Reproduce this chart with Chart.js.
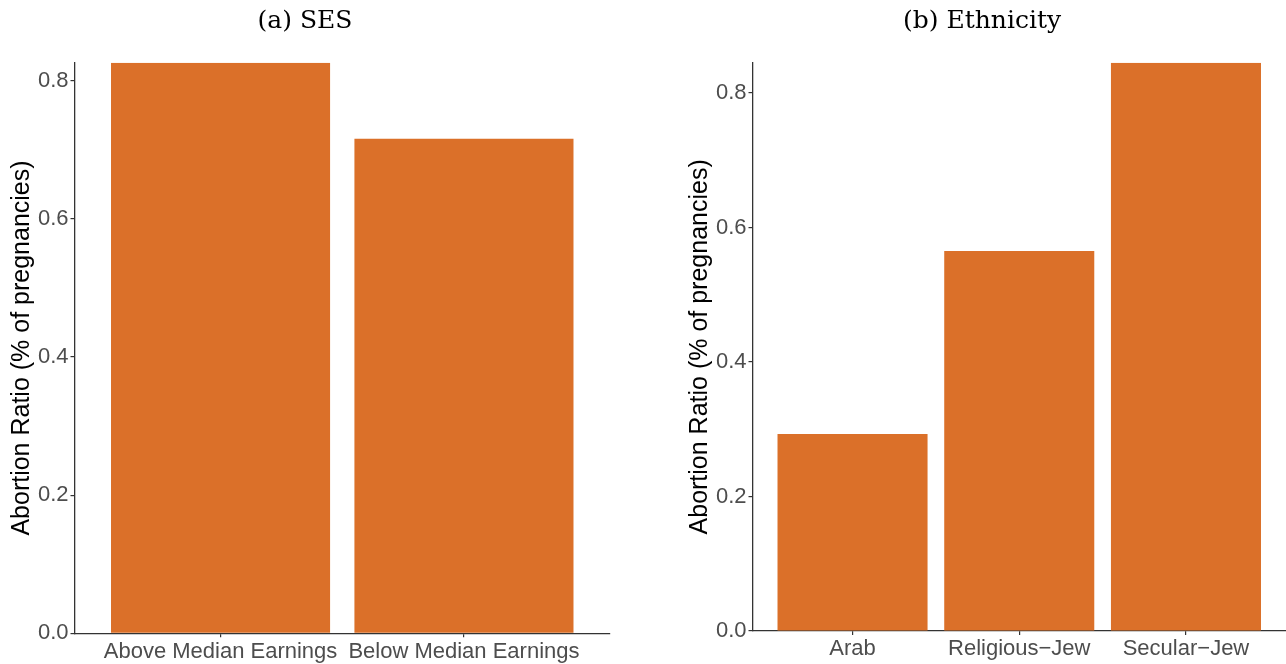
<!DOCTYPE html>
<html>
<head>
<meta charset="utf-8">
<script src="https://cdn.jsdelivr.net/npm/chart.js@4.4.1/dist/chart.umd.min.js"></script>
<style>
    html, body { margin: 0; padding: 0; background: #fff; overflow: hidden; }
    .panel { position: absolute; top: 0; height: 664px; }
    #left { left: 0; width: 622px; }
    #right { left: 678px; width: 618px; }
</style>
</head>
<body>
<div class="panel" id="left"><canvas id="sesChart"></canvas></div>
<div class="panel" id="right"><canvas id="ethChart"></canvas></div>
<script>
const sesLabels = ["Above Median Earnings", "Below Median Earnings"];
const sesValues = [0.826, 0.716];

const ethLabels = ["Arab", "Religious\u2212Jew", "Secular\u2212Jew"];
const ethValues = [0.293, 0.565, 0.845];

const yTicks = [0, 0.2, 0.4, 0.6, 0.8];

const barColor = "#DB7029";
const axisColor = "#333333";
const tickText = "#4d4d4d";

function makeChart(id, title, labels, values, rightPad, xHeight) {
    const ctx = document.getElementById(id).getContext("2d");
    const data = {
        datasets: [
            {
                data: values.map((v, i) => ({ x: i, y: v })),
                backgroundColor: barColor,
                borderWidth: 0,
                barPercentage: 0.9,
                categoryPercentage: 1.0,
            },
        ],
    };
    const config = {
        type: "bar",
        data: data,
        options: {
            responsive: true,
            maintainAspectRatio: false,
            animation: false,
            layout: { padding: { left: 0, right: rightPad, top: 0, bottom: 0 } },
            plugins: {
                legend: { display: false },
                tooltip: { enabled: false },
                title: {
                    display: true,
                    text: title,
                    color: "#000",
                    font: { family: "DejaVu Serif", size: 25, weight: "normal" },
                    padding: { top: 6, bottom: 26.7 },
                },
            },
            scales: {
                x: {
                    type: "linear",
                    offset: false,
                    min: -0.6,
                    max: labels.length - 0.4,
                    afterBuildTicks: (axis) => {
                        axis.ticks = labels.map((l, i) => ({ value: i }));
                    },
                    afterFit: (axis) => {
                        axis.height = xHeight;
                    },
                    ticks: {
                        autoSkip: false,
                        maxRotation: 0,
                        padding: 1,
                        color: tickText,
                        font: { family: "Liberation Sans", size: 22 },
                        callback: (v) => labels[v],
                    },
                    grid: {
                        offset: false,
                        drawOnChartArea: false,
                        drawTicks: true,
                        tickLength: 4,
                        color: axisColor,
                        lineWidth: 1.2,
                    },
                    border: { display: true, color: axisColor, width: 1.3 },
                },
                y: {
                    min: 0,
                    max: Math.max(...values),
                    afterBuildTicks: (axis) => {
                        axis.ticks = yTicks.map((v) => ({ value: v }));
                    },
                    afterFit: (axis) => {
                        axis.width = 74.5;
                    },
                    ticks: {
                        padding: 2,
                        color: tickText,
                        font: { family: "Liberation Sans", size: 22 },
                        callback: (v) => v.toFixed(1),
                    },
                    grid: {
                        drawOnChartArea: false,
                        drawTicks: true,
                        tickLength: 4,
                        color: axisColor,
                        lineWidth: 1.2,
                    },
                    border: { display: true, color: axisColor, width: 1.3 },
                    title: {
                        display: true,
                        text: "Abortion Ratio (% of pregnancies)",
                        color: "#000",
                        font: { family: "Liberation Sans", size: 25 },
                        padding: { top: 7, bottom: 0 },
                    },
                },
            },
        },
    };
    return new Chart(ctx, config);
}

makeChart("sesChart", "(a) SES", sesLabels, sesValues, 12, 30.7);
makeChart("ethChart", "(b) Ethnicity", ethLabels, ethValues, 10, 33);
</script>
</body>
</html>
